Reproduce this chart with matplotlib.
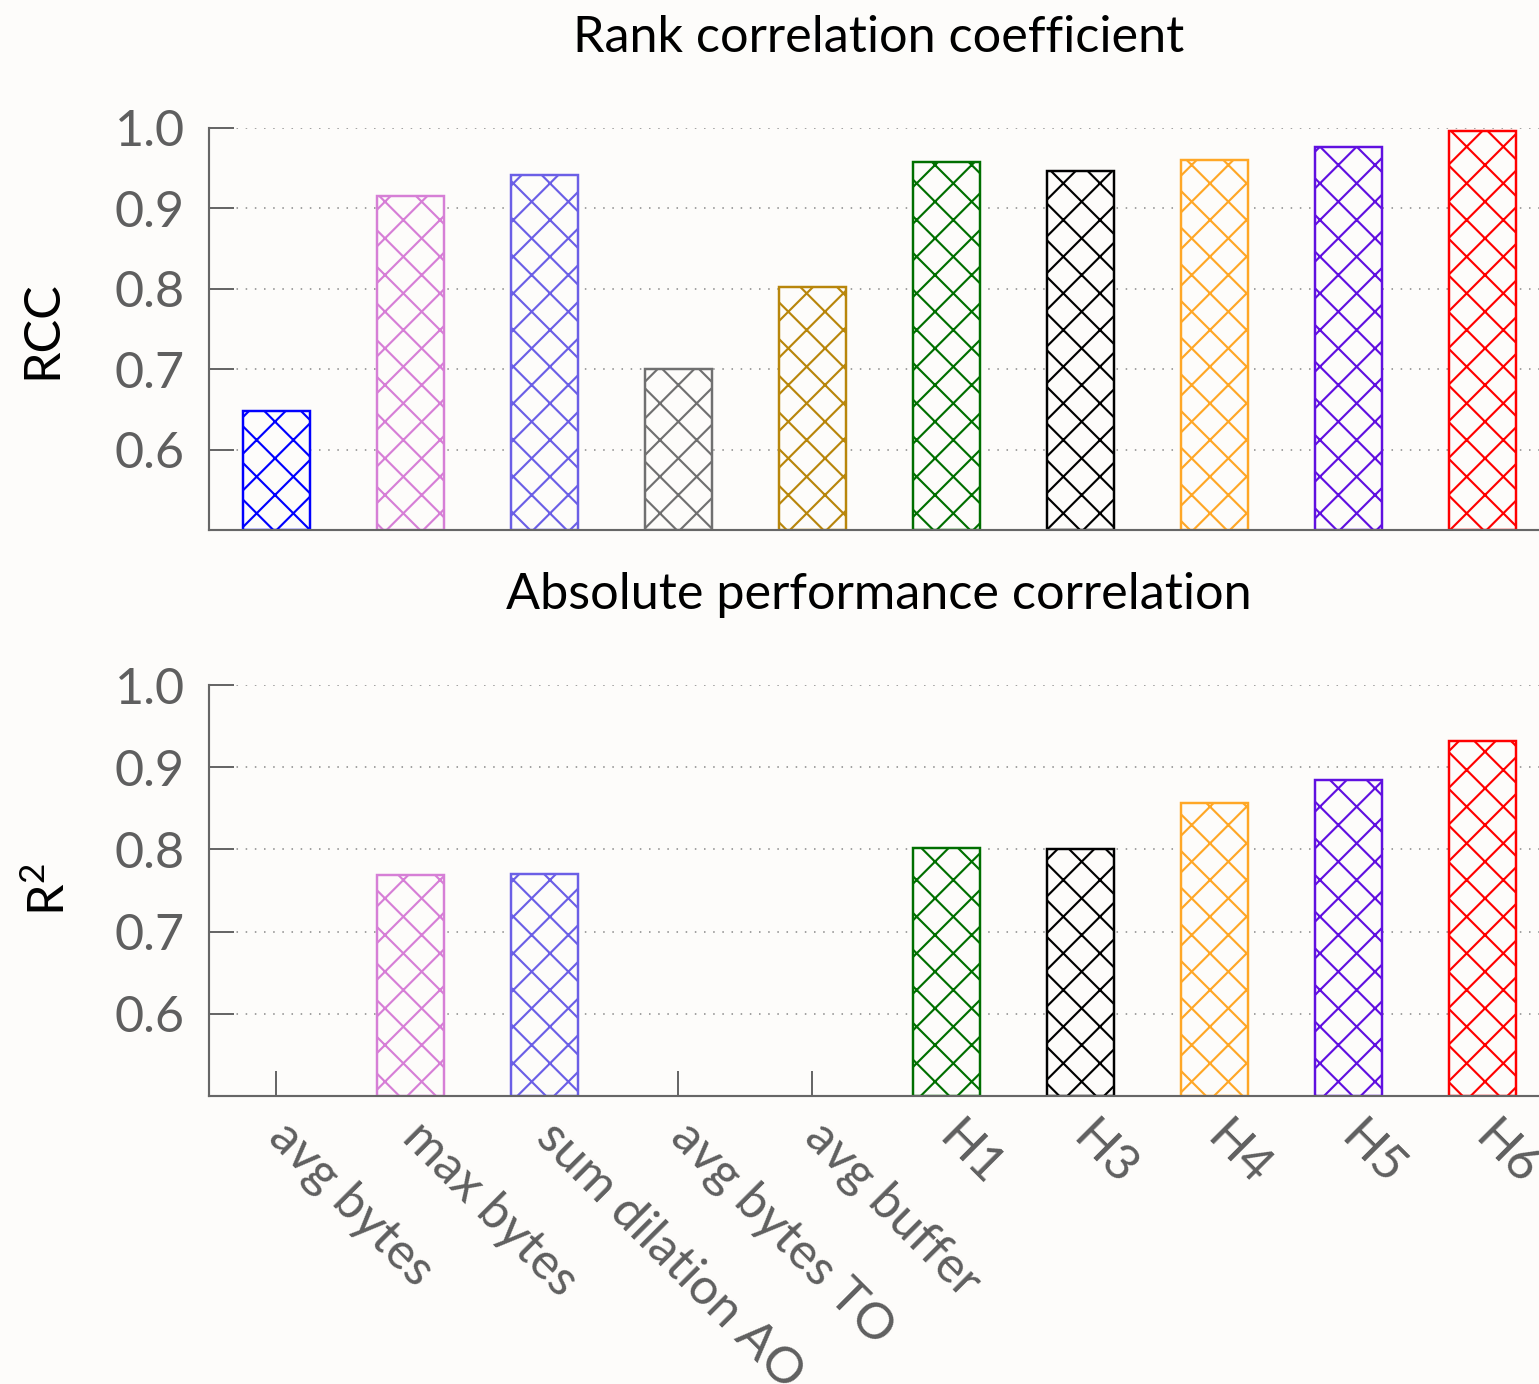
import numpy as np
import matplotlib
matplotlib.use("Agg")
import matplotlib.pyplot as plt

categories = ["avg bytes", "max bytes", "sum dilation AO", "avg bytes TO", "avg buffer",
              "H1", "H3", "H4", "H5", "H6"]
rcc_values = [0.648, 0.915, 0.942, 0.700, 0.802, 0.958, 0.947, 0.960, 0.976, 0.996]
r2_values = [np.nan, 0.769, 0.770, np.nan, np.nan, 0.802, 0.800, 0.856, 0.884, 0.932]
colors = ["#0000ff", "#d67fd6", "#6b5fe6", "#707070", "#b8860b",
          "#006f00", "#000000", "#ffa726", "#6010e0", "#ff0000"]
yticks = [0.6, 0.7, 0.8, 0.9, 1.0]
ytick_labels = ["0.6", "0.7", "0.8", "0.9", "1.0"]
titles = ["Rank correlation coefficient", "Absolute performance correlation"]

BG = "#fdfcfa"
GRAY = "#5f5f5f"
DPI = 220
plt.rcParams['font.family'] = ['Lato', 'DejaVu Sans']
plt.rcParams['mathtext.fontset'] = 'custom'
plt.rcParams['mathtext.rm'] = 'Lato'
plt.rcParams['hatch.linewidth'] = 0.7

fig = plt.figure(figsize=(1539 / DPI, 1384 / DPI), dpi=DPI, facecolor=BG)
W, H = 1539, 1384

def fx(px):
    return px / W

def fy(py):
    return 1 - py / H

ax_top = fig.add_axes([fx(209), fy(530), fx(1549) - fx(209), fy(128) - fy(530)])
ax_bot = fig.add_axes([fx(209), fy(1096), fx(1549) - fx(209), fy(685) - fy(1096)])

x = np.arange(len(categories))
for ax, vals, title in [(ax_top, rcc_values, titles[0]), (ax_bot, r2_values, titles[1])]:
    ax.set_facecolor(BG)
    ax.set_axisbelow(True)
    for xi, v, c in zip(x, vals, colors):
        if np.isnan(v):
            continue
        ax.bar(xi, v - 0.5, bottom=0.5, width=0.5, facecolor=BG, edgecolor=c,
               hatch='xx', linewidth=0.8, zorder=2)
    ax.set_xlim(-0.5, 9.5)
    ax.set_ylim(0.5, 1.0)
    ax.set_yticks(yticks)
    ax.set_yticklabels(ytick_labels)
    ax.set_xticks(x)
    for s in ["top", "right"]:
        ax.spines[s].set_visible(False)
    for s in ["left", "bottom"]:
        ax.spines[s].set_color("#666666")
        ax.spines[s].set_linewidth(0.7)
    ax.tick_params(axis='both', direction='in', length=8.2, width=0.65, color="#666666",
                   labelcolor=GRAY, labelsize=16.5)
    ax.tick_params(axis='y', pad=8)
    ax.yaxis.grid(True, linestyle=(0, (1, 5)), linewidth=0.5, color="#888888")
    ax.set_title(title, fontsize=16.5, color="black", pad=25)

ax_top.set_xticklabels([])
ax_bot.set_xticklabels(categories, rotation=-45, ha='left', va='center',
                       rotation_mode='anchor')
ax_bot.tick_params(axis='x', pad=11)

fig.text(fx(42), fy(330), "RCC", rotation=90, ha='center', va='center', fontsize=16.5, color='black')
fig.text(fx(50), fy(890), r"R$^\mathregular{2}$", rotation=90, ha='center', va='center',
         fontsize=16.5, color='black')

fig.savefig("out.png", dpi=DPI, facecolor=BG)
